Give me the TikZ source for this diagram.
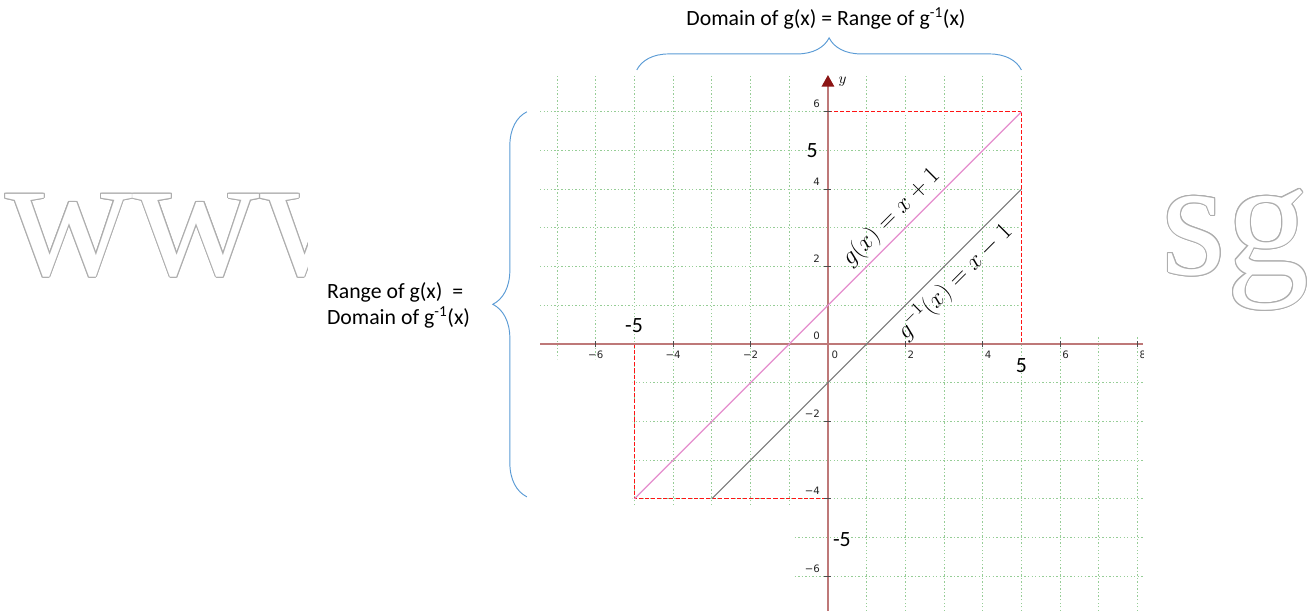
\RequirePackage{fix-cm}
\documentclass[tikz,border=0pt]{standalone}
\usepackage{fontspec}
\setmainfont{Carlito}
\newfontfamily\tickfont{DejaVu Sans}
\newfontfamily\wmfont{Liberation Serif}
\usetikzlibrary{arrows.meta,decorations.pathreplacing}
\definecolor{axred}{RGB}{190,120,120}
\definecolor{axtip}{RGB}{140,20,20}
\definecolor{gridgrn}{RGB}{150,205,150}
\definecolor{gpink}{RGB}{228,140,205}
\definecolor{ginvgray}{RGB}{120,120,120}
\definecolor{brblue}{RGB}{91,155,213}
\definecolor{bndred}{RGB}{255,20,20}

\begin{document}
\begin{tikzpicture}[
  gridln/.style={gridgrn, line width=0.6pt, dash pattern=on 1pt off 1.6pt},
  axis/.style={axred, line width=1.4pt},
  tk/.style={black!70, line width=0.5pt},
  tklbl/.style={font=\tickfont\fontsize{7.5}{8}\selectfont, text=black!85, inner sep=0pt},
  bnd/.style={bndred, line width=0.9pt, dash pattern=on 3pt off 1.5pt},
  big/.style={font=\fontsize{16}{19}\selectfont, inner sep=0pt},
  br/.style={brblue, line width=0.7pt, decorate, decoration={brace, amplitude=#1}},
  fn/.style={font=\fontsize{18}{20}\selectfont, text=black, sloped},
  wm/.style={font=\wmfont\fontsize{#1}{#1}\selectfont, inner sep=0pt, anchor=base west}
]
\useasboundingbox (-21.395,-6.899) rectangle (12.405,8.889);

% watermark (outline letters), middle part hidden behind the plot
\begin{scope}
  \clip (-21.4,-2) rectangle (-13.44,5);
  \foreach \a in {0,30,...,330}
    \node[wm=130, text=black!32] (wmw\a) at ([shift={(\a:0.8pt)}]-21.27,1.78) {www};
  \node[wm=130, text=white] (wmw) at (-21.27,1.78) {www};
\end{scope}
\foreach \a in {0,30,...,330}
  \node[wm=122, text=black!32] (wms\a) at ([shift={(\a:0.8pt)}]8.62,1.8) {sg};
\node[wm=122, text=white] (wms) at (8.62,1.8) {sg};

% grid, left out where the box is drawn
\begin{scope}[even odd rule]
  \clip (-7.44,6.95) -- (5.05,6.95) -- (5.05,0.2) -- (8.15,0.2) -- (8.15,-6.9)
        -- (-0.9,-6.9) -- (-0.9,-4.2) -- (-5.05,-4.2) -- (-5.05,-0.4)
        -- (-7.44,-0.4) -- cycle;
  \clip (-8,-7) rectangle (9,7)
        (0.05,5.93) rectangle (4.93,6.07) (4.93,0.05) rectangle (5.07,6.07);
  \draw[gridln] (-7.44,-6.9) grid (8.15,6.95);
\end{scope}

% domain / range box
\coordinate (p6)  at (0,6);
\coordinate (c56) at (5,6);
\coordinate (p5)  at (5,0);
\coordinate (m5)  at (-5,0);
\coordinate (cm5) at (-5,-4);
\coordinate (pm4) at (0,-4);
\draw[bnd] (m5) -- (cm5) -- (pm4);
\draw[bnd] (p6) -- (c56);
\draw[bnd] (c56) -- (p5);

% axes
\coordinate (xl) at (-7.44,0);
\coordinate (xr) at (8.15,0);
\coordinate (yb) at (0,-6.899);
\coordinate (yt) at (0,6.95);
\draw[axis] (xl) -- (xr);
\draw[axis, -{Triangle[length=0.3cm, width=0.32cm, color=axtip]}] (yb) -- (yt);
\foreach \t in {-6,-4,-2,2,4,6,8} \draw[tk] (\t,-0.09) -- (\t,0.09);
\foreach \t in {-6,-4,-2,2,4,6} \draw[tk] (-0.09,\t) -- (0.09,\t);

\begin{scope}
  \clip (-8,-1) rectangle (8.15,1);
  \foreach \t/\s/\d in {-6/{−6}/0,-4/{−4}/0,-2/{−2}/0,0/0/0.18,2/2/0.14,4/4/0.14,6/6/0.14,8/8/0.14}
    \node[tklbl] (tx\t) at (\t+\d,-0.28) {\s};
\end{scope}
\foreach \t/\s in {6/6,4/4,2/2,0/0,-2/{−2},-4/{−4},-6/{−6}}
  \node[tklbl, anchor=east] (ty\t) at (-0.2,\t+0.2) {\s};
\node[font=\fontsize{11}{12}\selectfont, inner sep=0pt] (ylbl) at (0.38,6.78) {$y$};

% the two lines
\coordinate (ia) at (-3,-4);
\coordinate (ib) at (5,4);
\draw[gpink, line width=0.9pt] (cm5) -- node[fn, above, pos=0.6955] (lg) {$g(x) = x + 1$} (c56);
\draw[ginvgray, line width=0.9pt] (ia) -- node[fn, below, pos=0.743] (lgi) {$g^{-1}(x) = x - 1$} (ib);

\node[big] (f1) at (-0.41,5.01) {5};
\node[big] (f2) at (-5.01,0.47) {-5};
\node[big] (f3) at (5.0,-0.55) {5};
\node[big] (f4) at (0.36,-5.06) {-5};

% braces and their texts
\coordinate (ba) at (-4.94,7.08);
\coordinate (bb) at (5.0,7.08);
\draw[br=0.83cm] (ba) -- (bb);
\coordinate (bc) at (-7.78,-3.95);
\coordinate (bd) at (-7.78,6.0);
\draw[br=0.88cm] (bc) -- (bd);
\node[big] (dom) at (-0.05,8.42) {Domain of g(x) = Range of g\textsuperscript{-1}(x)};
\node[big, align=left, anchor=west] (rng) at (-12.95,1.0) {Range of g(x)~~=\\Domain of g\textsuperscript{-1}(x)};
\end{tikzpicture}
\end{document}
